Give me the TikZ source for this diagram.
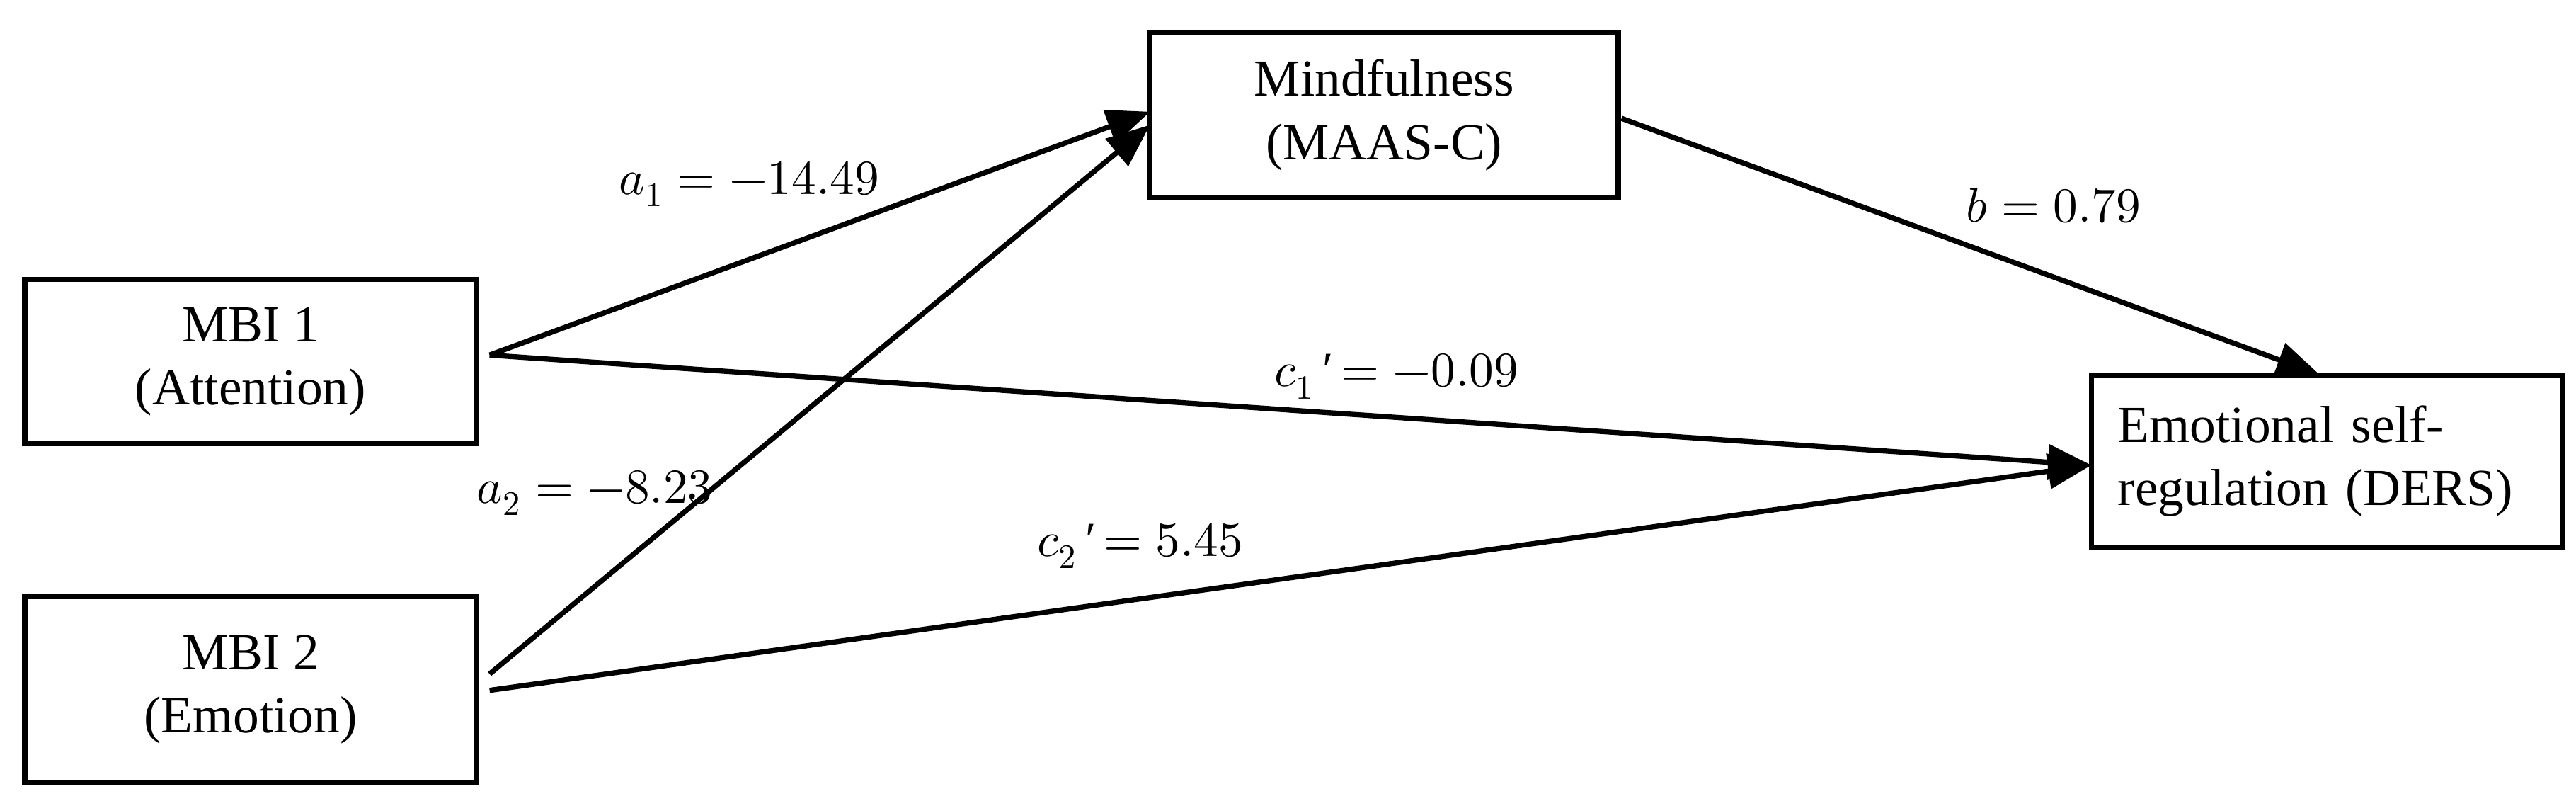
\documentclass[tikz,border=0pt]{standalone}
\usepackage{fontspec}
\setmainfont{Liberation Serif}
\usepackage{unicode-math}
\setmathfont{Latin Modern Math}
\usetikzlibrary{arrows.meta}
\begin{document}
\begin{tikzpicture}[x=0.02cm,y=-0.02cm,
  box/.style={draw,line width=1.8pt,inner sep=0pt,font=\fontsize{18}{22}\selectfont},
  arr/.style={line width=1.8pt,-{Triangle[length=15pt,width=12pt]}},
  lab/.style={font=\fontsize{17}{20}\selectfont}]
\useasboundingbox (0,0) rectangle (1568,490);
\node[box,minimum width=5.5cm,minimum height=2cm,align=center] (m1) at (152.5,220) {MBI 1\\(Attention)};
\node[box,minimum width=5.5cm,minimum height=2.26cm,align=center] (m2) at (152.5,419.5) {MBI 2\\(Emotion)};
\node[box,minimum width=5.7cm,minimum height=2cm,align=center] (mf) at (842.5,70) {Mindfulness\\(MAAS-C)};
\node[box,minimum width=5.74cm,minimum height=2.1cm,align=left,text width=5.1cm] (em) at (1416.5,280.5) {Emotional self-\\regulation (DERS)};
\coordinate (p1) at (298,216);
\coordinate (p2) at (298,410);
\coordinate (p2b) at (298,420);
\coordinate (mL) at (700,68);
\coordinate (mL2) at (700,76);
\coordinate (mR) at (987,72);
\coordinate (eT) at (1412,228);
\coordinate (eL) at (1273,283);
\draw[arr] (p1) -- (mL);
\draw[arr] (p2) -- (mL2);
\draw[arr] (mR) -- (eT);
\draw[arr] (p1) -- (eL);
\draw[arr] (p2b) -- (eL);
\node[lab] (la1) at (456,112) {$a_1 = -14.49$};
\node[lab] (lb) at (1250,125) {$b = 0.79$};
\node[lab] (lc1) at (850,229) {$c_1$\,′\,$= -0.09$};
\node[lab] (la2) at (362,300) {$a_2 = -8.23$};
\node[lab] (lc2) at (694,332) {$c_2$\,′\,$= 5.45$};
\end{tikzpicture}
\end{document}
